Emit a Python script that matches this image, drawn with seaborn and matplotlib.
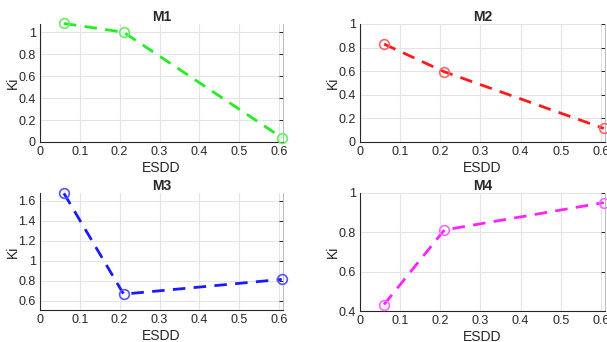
import numpy as np
import pandas as pd
import matplotlib
matplotlib.use("Agg")
import matplotlib.pyplot as plt
import seaborn as sns

# ESDD levels shared by all four models
esdd = [0.06, 0.21, 0.607]

# Ki values for each model
ki_m1 = [1.08, 1.00, 0.04]
ki_m2 = [0.83, 0.595, 0.115]
ki_m3 = [1.672, 0.668, 0.815]
ki_m4 = [0.433, 0.812, 0.951]

titles = ["M1", "M2", "M3", "M4"]
line_colors = ["#22ee22", "#ff1a1a", "#1a1aff", "#ff22ff"]
marker_colors = ["#66ee66", "#ff6666", "#5555ff", "#ff66ff"]

x_ticks = [0, 0.1, 0.2, 0.3, 0.4, 0.5, 0.6]
x_tick_labels = ["0", "0.1", "0.2", "0.3", "0.4", "0.5", "0.6"]
y_ticks = [
    [0, 0.2, 0.4, 0.6, 0.8, 1],
    [0, 0.2, 0.4, 0.6, 0.8, 1],
    [0.6, 0.8, 1, 1.2, 1.4, 1.6],
    [0.4, 0.6, 0.8, 1],
]
y_tick_labels = [
    ["0", "0.2", "0.4", "0.6", "0.8", "1"],
    ["0", "0.2", "0.4", "0.6", "0.8", "1"],
    ["0.6", "0.8", "1", "1.2", "1.4", "1.6"],
    ["0.4", "0.6", "0.8", "1"],
]
y_limits = [(0, 1.075), (0, 1.0), (0.51, 1.675), (0.4, 1.0)]

sns.set_theme(style="white")
plt.rcParams["font.family"] = ["Liberation Sans", "DejaVu Sans"]

W, H = 607, 342
fig = plt.figure(figsize=(W / 100, H / 100), dpi=100)

# axes boxes in pixels: left, top, right, bottom
boxes = [(40, 24, 283, 142), (360, 24, 605, 142),
         (40, 193, 283, 310), (360, 193, 605, 311)]

series = [ki_m1, ki_m2, ki_m3, ki_m4]
for i, (l, t, r, b) in enumerate(boxes):
    ax = fig.add_axes([l / W, 1 - b / H, (r - l) / W, (b - t) / H])
    df = pd.DataFrame({"ESDD": esdd, "Ki": series[i]})
    sns.lineplot(data=df, x="ESDD", y="Ki", ax=ax, color=line_colors[i],
                 linestyle=(0, (4.5, 3)), linewidth=2.0, marker="o",
                 markersize=7, markerfacecolor="none",
                 markeredgecolor=marker_colors[i], markeredgewidth=1.2,
                 clip_on=False, zorder=3)
    ax.set_xlim(0, 0.61)
    ax.set_ylim(*y_limits[i])
    ax.set_xticks(x_ticks)
    ax.set_xticklabels(x_tick_labels)
    ax.set_yticks(y_ticks[i])
    ax.set_yticklabels(y_tick_labels[i])
    ax.grid(True, color="#e4e4e4", linewidth=0.8)
    ax.tick_params(axis="both", direction="in", length=3, width=0.7,
                   labelsize=9, colors="#262626", pad=3,
                   right=True, top=False)
    for side in ["left", "bottom"]:
        ax.spines[side].set_color("#262626")
        ax.spines[side].set_linewidth(0.8)
    ax.spines["top"].set_visible(False)
    ax.spines["right"].set_color("#bbbbbb")
    ax.spines["right"].set_linewidth(0.7)
    ax.set_title(titles[i], fontsize=10, fontweight="bold", pad=2)
    ax.set_xlabel("ESDD", fontsize=10, color="#262626", labelpad=2)
    ax.set_ylabel("Ki", fontsize=10, color="#262626", labelpad=-1)

fig.savefig("out.png", dpi=100, facecolor="white")
